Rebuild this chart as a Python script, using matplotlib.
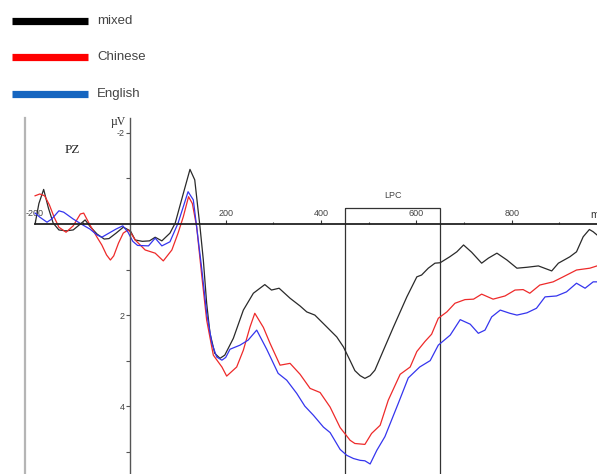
import matplotlib
matplotlib.use("Agg")
import matplotlib.pyplot as plt
from matplotlib.lines import Line2D
from matplotlib.patches import Rectangle

# ---- data (time in ms, amplitude in microvolts; negative plotted up) ----
t_mixed = [-200, -192, -182, -172, -162, -150, -135, -120, -105, -95, -85, -70, -55, -45, -30, -15,
           0, 10, 25, 40, 52, 66, 83, 94, 111, 125, 135, 142, 146, 153, 160, 167, 177, 188, 198,
           216, 237, 258, 282, 296, 312, 335, 356, 370, 387, 412, 433, 447, 461, 471, 482, 492,
           503, 513, 531, 552, 580, 601, 611, 625, 639, 650, 670, 685, 699, 716, 737, 751, 769,
           790, 811, 832, 856, 884, 898, 922, 936, 950, 963, 971, 979]
v_mixed = [0.0, -0.45, -0.76, -0.35, -0.02, 0.13, 0.15, 0.13, 0.0, -0.09, 0.05, 0.22, 0.33, 0.32, 0.2, 0.07,
           0.15, 0.35, 0.38, 0.37, 0.29, 0.37, 0.2, -0.02, -0.67, -1.2, -0.97, -0.31, 0.06, 0.79, 1.74, 2.4, 2.84, 2.95, 2.88,
           2.51, 1.89, 1.52, 1.33, 1.45, 1.41, 1.63, 1.8, 1.93, 2.0, 2.26, 2.48, 2.7, 3.0, 3.22, 3.33, 3.39,
           3.33, 3.21, 2.77, 2.26, 1.6, 1.16, 1.12, 0.97, 0.86, 0.85, 0.72, 0.61, 0.46, 0.62, 0.86, 0.75, 0.64,
           0.79, 0.97, 0.95, 0.92, 1.03, 0.86, 0.72, 0.61, 0.28, 0.12, 0.17, 0.24]

t_chinese = [-200, -190, -180, -170, -160, -150, -135, -120, -105, -98, -85, -70, -60, -50, -42, -35, -25, -15, -5,
             0, 10, 31, 52, 69, 87, 100, 111, 122, 130, 139, 150, 160, 174, 192, 202, 223, 237, 251, 261,
             279, 293, 314, 335, 356, 377, 398, 419, 440, 461, 471, 492, 506, 517, 524, 541, 566, 587,
             601, 618, 632, 646, 664, 681, 702, 720, 737, 761, 786, 807, 824, 838, 859, 887, 908, 936, 964, 979]
v_chinese = [-0.62, -0.66, -0.62, -0.42, -0.15, 0.07, 0.18, 0.04, -0.22, -0.24, 0.02, 0.29, 0.46, 0.68, 0.79, 0.70, 0.42, 0.20, 0.13,
             0.18, 0.35, 0.57, 0.64, 0.81, 0.57, 0.2, -0.16, -0.6, -0.45, 0.06, 1.16, 2.11, 2.88, 3.14, 3.34, 3.14, 2.77, 2.26, 1.96,
             2.27, 2.62, 3.1, 3.06, 3.3, 3.61, 3.7, 4.02, 4.47, 4.75, 4.82, 4.84, 4.6, 4.49, 4.42, 3.87, 3.3, 3.14,
             2.8, 2.58, 2.42, 2.07, 1.93, 1.74, 1.66, 1.65, 1.54, 1.65, 1.58, 1.45, 1.44, 1.52, 1.34, 1.27, 1.16, 1.01, 0.97, 0.92]

t_english = [-200, -190, -175, -165, -150, -140, -120, -100, -85, -70, -60, -45, -30, -16, -5,
             5, 15, 38, 52, 66, 83, 100, 111, 121, 132, 139, 150, 160, 171, 181, 192, 200, 209, 230, 247, 265,
             286, 310, 328, 349, 366, 384, 405, 419, 440, 454, 468, 482, 492, 503, 517, 534, 562, 583, 607,
             629, 646, 671, 692, 713, 730, 744, 758, 776, 796, 811, 832, 852, 870, 894, 915, 936, 954, 971, 979]
v_english = [-0.24, -0.15, -0.04, -0.11, -0.29, -0.26, -0.11, 0.02, 0.11, 0.24, 0.29, 0.20, 0.11, 0.04, 0.18,
             0.38, 0.47, 0.48, 0.31, 0.48, 0.39, -0.02, -0.38, -0.71, -0.53, 0.06, 1.01, 1.96, 2.62, 2.92, 2.99, 2.93, 2.75, 2.66, 2.55, 2.33,
             2.75, 3.28, 3.43, 3.72, 4.0, 4.2, 4.46, 4.58, 4.95, 5.08, 5.15, 5.19, 5.2, 5.27, 4.97, 4.67, 3.94, 3.38, 3.14,
             3.0, 2.66, 2.44, 2.1, 2.2, 2.4, 2.33, 2.04, 1.89, 1.96, 2.0, 1.95, 1.85, 1.6, 1.58, 1.49, 1.3, 1.41, 1.27, 1.27]

series_names = ["mixed", "Chinese", "English"]
x_major = [-200, 200, 400, 600, 800]
x_minor = [-100, 100, 300, 500, 700, 900]
y_major = [-2, 2, 4]
y_minor = [-1, 1, 3, 5]
lpc_window = (450, 650)

# ---- figure ----
W, H = 597, 474
fig = plt.figure(figsize=(W / 100, H / 100), dpi=100)
ax = fig.add_axes([0, 0, 1, 1])
ax.set_facecolor("white")
ax.set_xlim(-273.6, 979)
ax.set_ylim(5.49, -4.92)

# axes through the origin
for s in ["bottom", "right"]:
    ax.spines[s].set_visible(False)
ax.spines["top"].set_position(("data", 0))
ax.spines["top"].set_bounds(-200, 979)
ax.spines["top"].set_linewidth(1.3)
ax.spines["top"].set_color("#222222")
ax.spines["left"].set_position(("data", 0))
ax.spines["left"].set_bounds(-2.33, 5.49)
ax.spines["left"].set_linewidth(1.0)
ax.spines["left"].set_color("#555555")

ax.xaxis.set_ticks_position("top")
ax.set_xticks(x_major)
ax.set_xticks(x_minor, minor=True)
ax.set_xticklabels([str(v) for v in x_major])
ax.tick_params(axis="x", which="major", direction="out", length=3, width=0.8, pad=1,
               labelsize=6.5, labelcolor="#444444", color="#333333")
ax.tick_params(axis="x", which="minor", direction="out", length=1.5, width=0.8, color="#333333")

ax.set_yticks(y_major)
ax.set_yticks(y_minor, minor=True)
ax.set_yticklabels([str(v) for v in y_major])
ax.tick_params(axis="y", which="both", direction="out", length=3, width=0.8, pad=1,
               labelsize=6.5, labelcolor="#444444", color="#555555")
for lab in ax.get_xticklabels() + ax.get_yticklabels():
    lab.set_fontfamily("Liberation Sans")

# light gray left border line
ax.plot([-221, -221], [-2.33, 5.49], color="#b5b5b5", lw=1.6, clip_on=False)

# LPC window box
ax.add_patch(Rectangle((lpc_window[0], -0.36), lpc_window[1] - lpc_window[0], 7,
                       fill=False, edgecolor="#333333", lw=0.9))
ax.text((lpc_window[0] + lpc_window[1]) / 2, -0.62, "LPC", ha="center", va="center",
        fontsize=6.5, color="#444444", family="Liberation Sans")

# curves
ax.plot(t_mixed, v_mixed, color="#2a2a2a", lw=0.9)
ax.plot(t_chinese, v_chinese, color="#ee2a2a", lw=0.9)
ax.plot(t_english, v_english, color="#3535ee", lw=0.9)

# labels
ax.text(-25, -2.25, "\u00b5V", ha="center", va="center", fontsize=8.5, family="Liberation Serif", color="#333333")
ax.text(-121, -1.63, "PZ", ha="center", va="center", fontsize=9.5, family="Liberation Serif", color="#222222")
fig.text(590 / W, 1 - 215 / H, "ms", ha="left", va="center", fontsize=7.5, family="Liberation Sans", color="#333333")

# legend (top-left)
leg_colors = ["#000000", "#ff0000", "#1565c0"]
leg_y = [21, 57, 94]
for name, col, yy in zip(series_names, leg_colors, leg_y):
    yf = 1 - yy / H
    fig.add_artist(Line2D([12 / W, 88 / W], [yf, yf], color=col, lw=5.2, solid_capstyle="butt"))
    fig.text(97 / W, yf, name, ha="left", va="center", fontsize=9.5, color="#444444", family="Liberation Sans")

fig.savefig("out.png", dpi=100, facecolor="white")
